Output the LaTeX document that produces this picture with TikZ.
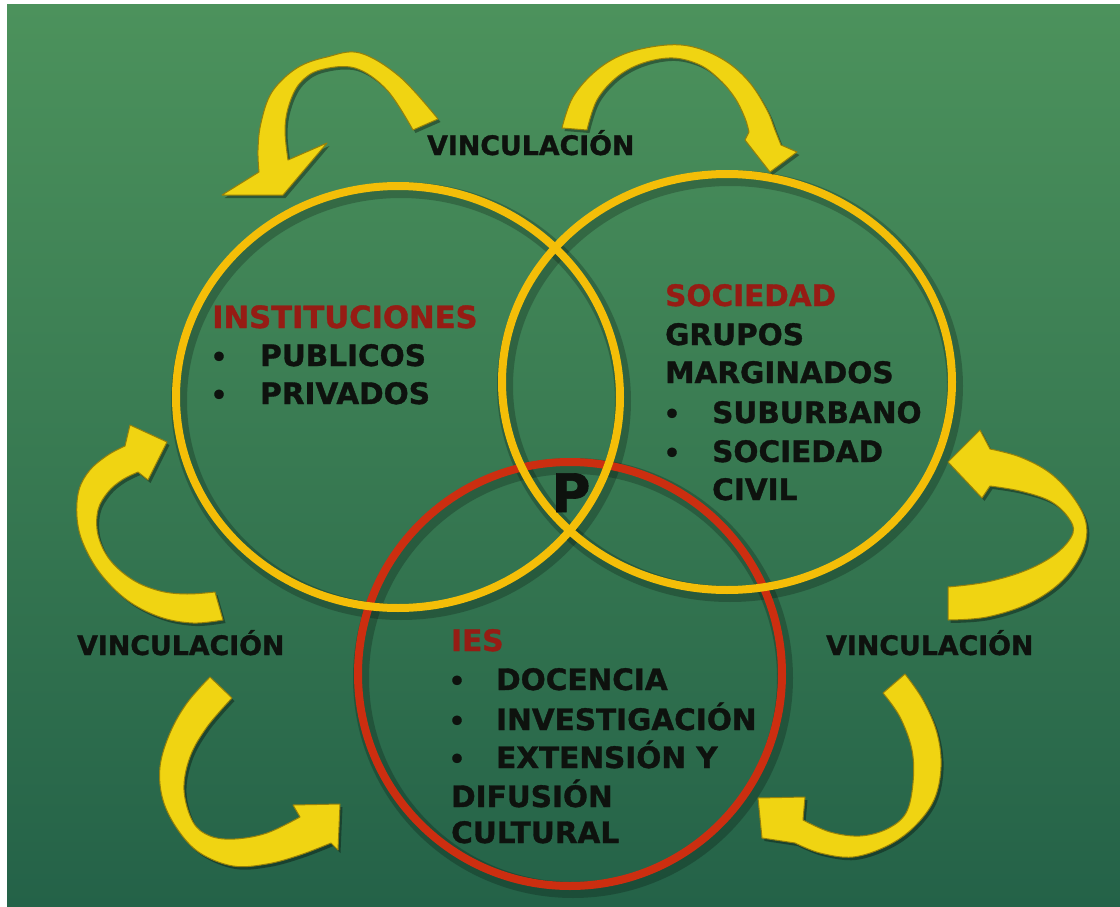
\documentclass[tikz,border=0pt]{standalone}
\usepackage{fontspec}
\setmainfont{DejaVu Sans}[BoldFeatures={FakeBold=1.2}]
\definecolor{bgtop}{RGB}{76,146,92}
\definecolor{bgmid}{RGB}{58,124,82}
\definecolor{bgbot}{RGB}{36,98,72}
\definecolor{ringyellow}{RGB}{244,190,8}
\definecolor{ringred}{RGB}{204,46,16}
\definecolor{arrowfill}{RGB}{240,212,18}
\definecolor{arrowedge}{RGB}{150,128,10}
\definecolor{titlered}{RGB}{150,28,20}
\definecolor{ink}{RGB}{14,18,14}
\begin{document}
\begin{tikzpicture}[x=1pt,y=-1pt,
  ringshadow/.style={draw=black, draw opacity=0.22, line width=16pt, transform canvas={shift={(3pt,-4pt)}}},
  yring/.style={draw=ringyellow, line width=8pt},
  rring/.style={draw=ringred, line width=8pt},
  yarrow/.style={fill=arrowfill, draw=arrowedge, line width=1pt, line join=round,
    preaction={fill=black, fill opacity=0.35, draw=none, transform canvas={shift={(2.5pt,-3pt)}}}},
  body/.style={anchor=base west, inner sep=0pt, font=\bfseries\fontsize{29.5}{35}\selectfont, text=ink},
  ttl/.style={body, text=titlered},
  bul/.style={anchor=base, inner sep=0pt, font=\bfseries\fontsize{26}{30}\selectfont, text=ink},
  vinc/.style={anchor=base west, inner sep=0pt, font=\bfseries\fontsize{26.8}{30}\selectfont, text=ink},
  pstyle/.style={anchor=base, inner sep=0pt, font=\bfseries\fontsize{53}{60}\selectfont, text=ink}]
\useasboundingbox (0,0) rectangle (1120,907);
\fill[white] (0,0) rectangle (1120,907);
\shade[top color=bgtop, middle color=bgmid, bottom color=bgbot] (7,5) rectangle (1120,907);

% circle centres
\coordinate (cI) at (398,397);
\coordinate (cS) at (727,382);
\coordinate (cE) at (570,674);

% shadows
\draw[ringshadow] (cI) ellipse[x radius=222pt, y radius=211pt];
\draw[ringshadow] (cS) ellipse[x radius=225pt, y radius=208pt];
\draw[ringshadow] (cE) circle[radius=212pt];

% rings
\draw[rring] (cE) circle[radius=212pt];
\draw[yring] (cI) ellipse[x radius=222pt, y radius=211pt];
\draw[yring] (cS) ellipse[x radius=225pt, y radius=208pt];

% arrow A (top left)
\filldraw[yarrow] plot[smooth,tension=0.6] coordinates {(438,119) (400,77) (360,53) (327,57) (297,68) (272,92) (261,123) (258,150) (259,172)}
  -- (222,195) -- (283,195) -- (327,143)
  -- plot[smooth,tension=0.6] coordinates {(288,160) (285,130) (289,105) (300,83) (320,70) (355,68) (387,90) (413,130)} -- cycle;
% arrow B (top right)
\filldraw[yarrow] plot[smooth,tension=0.6] coordinates {(562,128) (573,97) (597,70) (627,53) (667,45) (697,48) (727,62) (750,83) (767,110) (775,130) (781,145)}
  -- (797,152) -- (770,172) -- (745,140)
  -- plot[smooth,tension=0.6] coordinates {(749,132) (745,118) (735,98) (720,80) (700,65) (673,58) (643,63) (617,77) (597,100) (587,130)} -- cycle;
% arrow C (left middle)
\filldraw[yarrow] plot[smooth,tension=0.6] coordinates {(223,620) (193,623) (160,617) (127,600) (100,573) (83,543) (77,517) (79,490) (90,470) (108,455) (125,446)}
  -- (130,425) -- (167,442) -- (148,480)
  -- plot[smooth,tension=0.6] coordinates {(138,472) (122,480) (108,492) (98,510) (98,535) (110,560) (133,580) (160,591) (187,594) (215,592)} -- cycle;
% arrow D (right middle)
\filldraw[yarrow] plot[smooth,tension=0.6] coordinates {(948,620) (987,617) (1030,603) (1063,580) (1083,550) (1086,523) (1073,497) (1050,473) (1020,457) (990,449)}
  -- (980,430) -- (948,462) -- (982,498)
  -- plot[smooth,tension=0.6] coordinates {(990,486) (1020,491) (1050,501) (1068,517) (1073,533) (1057,553) (1027,570) (987,582) (948,587)} -- cycle;
% arrow E (bottom left)
\filldraw[yarrow] plot[smooth,tension=0.6] coordinates {(210,677) (187,703) (170,733) (160,767) (163,800) (178,830) (200,853) (233,866) (267,864) (300,855) (331,843)}
  -- (338,850) -- (340,804) -- (293,805)
  -- plot[smooth,tension=0.6] coordinates {(300,817) (267,833) (235,839) (210,836) (193,822) (184,790) (190,757) (207,727) (232,698)} -- cycle;
% arrow F (bottom right)
\filldraw[yarrow] plot[smooth,tension=0.6] coordinates {(905,674) (923,700) (937,733) (941,767) (934,800) (914,827) (887,846) (853,857) (820,853) (795,843)}
  -- (762,838) -- (758,798) -- (805,797)
  -- plot[smooth,tension=0.6] coordinates {(803,820) (830,832) (860,836) (887,829) (906,813) (913,783) (912,750) (900,717) (883,693)} -- cycle;

% labels
\node[vinc] (vtop) at (427,155) {VINCULACIÓN};
\node[vinc] (vleft) at (77,655) {VINCULACIÓN};
\node[vinc] (vright) at (826,655) {VINCULACIÓN};

\node[ttl, font=\bfseries\fontsize{30.6}{35}\selectfont] (inst) at (212,328) {INSTITUCIONES};
\node[bul] (b1) at (219,366) {•};
\node[body] (pub) at (260,366) {PUBLICOS};
\node[bul] (b2) at (219,404) {•};
\node[body] (priv) at (260,404) {PRIVADOS};

\node[ttl] (soc) at (665,306) {SOCIEDAD};
\node[body] (grp) at (665,345) {GRUPOS};
\node[body] (marg) at (665,383) {MARGINADOS};
\node[bul] (b3) at (672,423) {•};
\node[body] (sub) at (712,423) {SUBURBANO};
\node[bul] (b4) at (672,462) {•};
\node[body] (soc2) at (712,462) {SOCIEDAD};
\node[body] (civ) at (712,500) {CIVIL};

\node[pstyle] (p) at (571,512) {P};

\node[ttl] (ies) at (451,651) {IES};
\node[bul] (b5) at (457,690) {•};
\node[body] (doc) at (496,690) {DOCENCIA};
\node[bul] (b6) at (457,730) {•};
\node[body] (inv) at (496,730) {INVESTIGACIÓN};
\node[bul] (b7) at (457,768) {•};
\node[body] (ext) at (496,768) {EXTENSIÓN Y};
\node[body] (dif) at (451,807) {DIFUSIÓN};
\node[body] (cul) at (451,843) {CULTURAL};
\end{tikzpicture}
\end{document}
